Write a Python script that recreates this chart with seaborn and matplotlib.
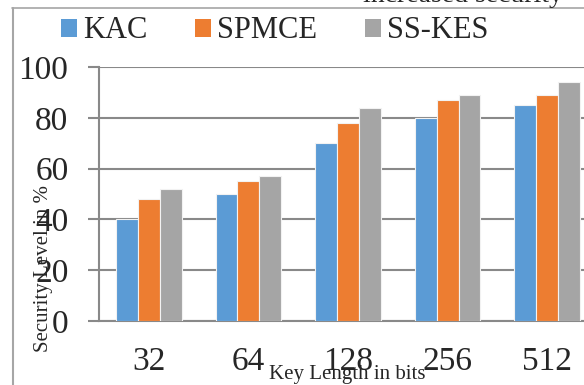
import matplotlib
matplotlib.use("Agg")
import matplotlib.pyplot as plt
from matplotlib.patches import Patch
from matplotlib.lines import Line2D
from matplotlib.ticker import FixedLocator
import seaborn as sns
import pandas as pd

# Security level (%) for each key length and scheme
key_lengths = ["32", "64", "128", "256", "512"]
schemes = ["KAC", "SPMCE", "SS-KES"]
kac = [40, 50, 70, 80, 85]
spmce = [48, 55, 78, 87, 89]
ss_kes = [52, 57, 84, 89, 94]
colors = ["#5B9BD5", "#ED7D31", "#A5A5A5"]

rows = []
for name, vals in zip(schemes, [kac, spmce, ss_kes]):
    for k, v in zip(key_lengths, vals):
        rows.append({"Key Length": k, "Scheme": name, "Security": v})
df = pd.DataFrame(rows)

sns.set_style("white")
plt.rcParams["font.family"] = ["Liberation Serif", "DejaVu Serif"]

W, H = 584, 385
fig = plt.figure(figsize=(W / 100, H / 100), dpi=100)
ax = fig.add_axes([99 / W, 64 / H, 498 / W, 254 / H])

sns.barplot(data=df, x="Key Length", y="Security", hue="Scheme",
            order=key_lengths, hue_order=schemes, palette=colors,
            saturation=1, width=0.66, edgecolor="#F2F2F2", linewidth=0.8,
            legend=False, ax=ax, zorder=3)

grey = "#898989"
ax.set_xlim(-0.5, 4.5)
ax.set_ylim(0, 100)
ax.set_yticks(range(0, 101, 20))
ax.yaxis.grid(True, color=grey, linewidth=1.5, zorder=0)
ax.xaxis.grid(False)
for side in ["top", "right"]:
    ax.spines[side].set_visible(False)
for side in ["left", "bottom"]:
    ax.spines[side].set_color(grey)
    ax.spines[side].set_linewidth(1.5)

# category-boundary ticks on the x axis
ax.xaxis.set_minor_locator(FixedLocator([i - 0.5 for i in range(len(key_lengths) + 1)]))
ax.tick_params(axis="x", which="major", length=0, pad=18, labelsize=24)
ax.tick_params(axis="x", which="minor", length=7, width=1.5, color=grey, direction="out")
ax.tick_params(axis="y", which="major", length=8, width=1.5, color=grey,
               direction="out", pad=14, labelsize=24, left=True)

ax.set_xlabel("Key Length in bits", fontsize=15, va="center")
ax.xaxis.set_label_coords(0.498, -0.209)
ax.set_ylabel("Security Level in %", fontsize=15, va="center")
ax.yaxis.set_label_coords(-0.112, 0.205)

handles = [Patch(facecolor=c, edgecolor="none") for c in colors]
fig.legend(handles, schemes, loc="center left",
           bbox_to_anchor=(61 / W, 1 - 31 / H), ncol=3, frameon=False,
           fontsize=22, handlelength=0.53, handleheight=0.53,
           handletextpad=0.2, columnspacing=1.55, borderpad=0,
           borderaxespad=0)

# surrounding frame and text of the page
frame_col = "#A6A6A6"
fig.add_artist(Line2D([12.5 / W, 12.5 / W], [0, 1 - 8 / H], color=frame_col,
                      linewidth=1.5, transform=fig.transFigure))
fig.add_artist(Line2D([12 / W, 1], [1 - 8 / H, 1 - 8 / H], color=frame_col,
                      linewidth=1.2, transform=fig.transFigure))
fig.text(363 / W, 1 - 1.5 / H, "increased security", fontsize=20,
         va="baseline", ha="left")

fig.savefig("out.png", dpi=100)
